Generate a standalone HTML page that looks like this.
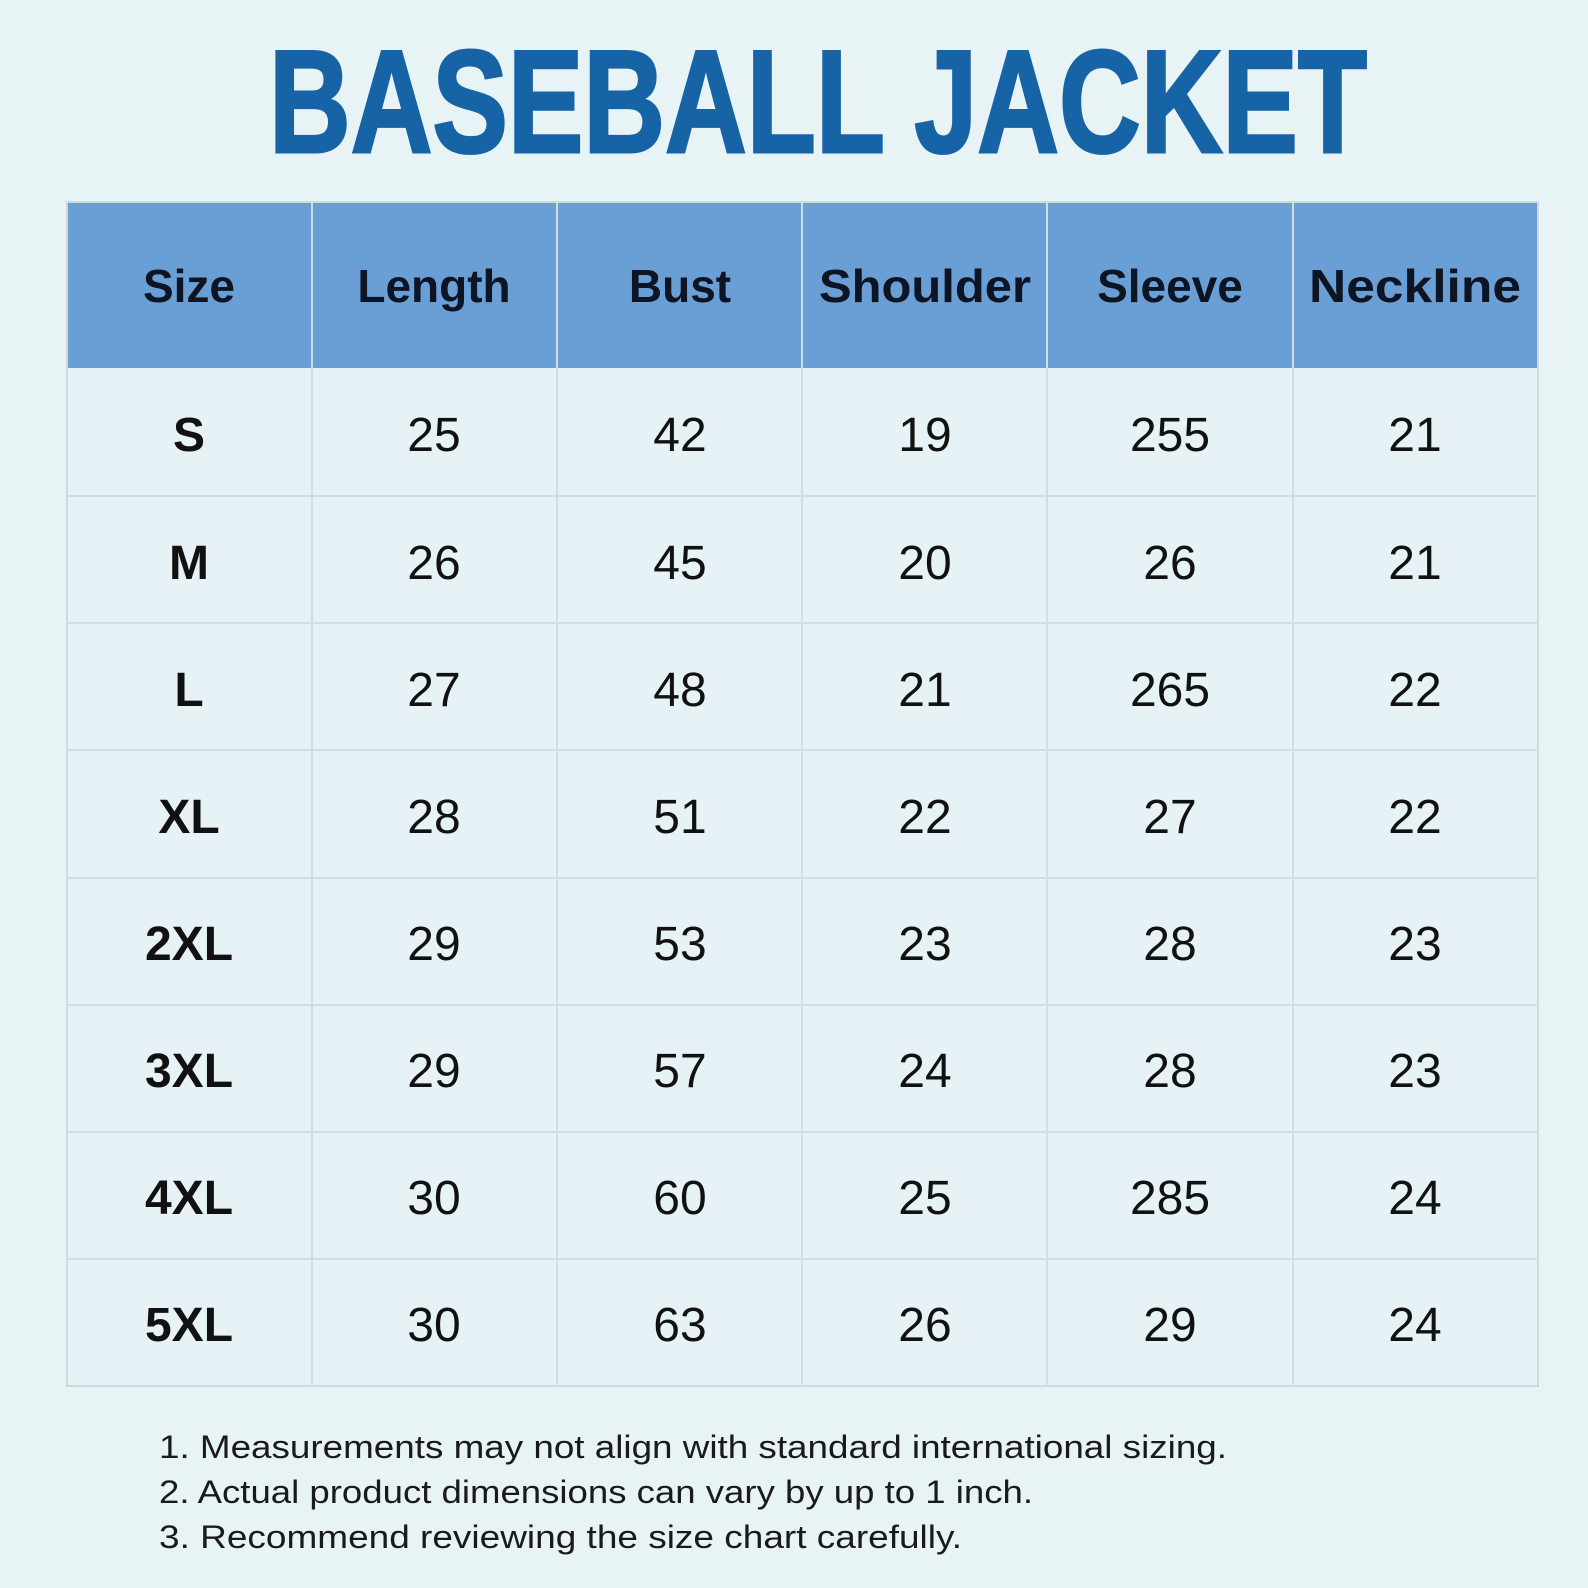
<!DOCTYPE html>
<html><head><meta charset="utf-8"><style>
html,body{margin:0;padding:0;background:#e8f3f6;}
svg{display:block}
</style></head><body>
<svg width="1588" height="1588" viewBox="0 0 1588 1588" xmlns="http://www.w3.org/2000/svg">
<rect width="1588" height="1588" fill="#e8f3f6"/>
<text x="269" y="152" font-family="Liberation Sans, sans-serif" font-weight="bold" font-size="146" fill="#1663a6" textLength="1098" lengthAdjust="spacingAndGlyphs" stroke="#1663a6" stroke-width="3">BASEBALL JACKET</text>
<rect x="67" y="202" width="1471" height="166" fill="#6a9fd6"/>
<rect x="67" y="368" width="1471" height="1018" fill="#e6f2f5"/>
<g stroke="#d3dde2" stroke-width="2" fill="none">
<rect x="67" y="202" width="1471" height="1184" stroke="#cfd9de"/>
<line x1="312" y1="202" x2="312" y2="1386"/>
<line x1="557" y1="202" x2="557" y2="1386"/>
<line x1="802" y1="202" x2="802" y2="1386"/>
<line x1="1047" y1="202" x2="1047" y2="1386"/>
<line x1="1293" y1="202" x2="1293" y2="1386"/>
<line x1="67" y1="496" x2="1538" y2="496"/>
<line x1="67" y1="623" x2="1538" y2="623"/>
<line x1="67" y1="750" x2="1538" y2="750"/>
<line x1="67" y1="878" x2="1538" y2="878"/>
<line x1="67" y1="1005" x2="1538" y2="1005"/>
<line x1="67" y1="1132" x2="1538" y2="1132"/>
<line x1="67" y1="1259" x2="1538" y2="1259"/>
</g>
<g font-family="Liberation Sans, sans-serif" font-weight="bold" font-size="46" fill="#0d1424" text-anchor="middle">
<text x="189" y="302">Size</text>
<text x="434" y="302">Length</text>
<text x="680" y="302">Bust</text>
<text x="925" y="302" textLength="212" lengthAdjust="spacingAndGlyphs">Shoulder</text>
<text x="1170" y="302">Sleeve</text>
<text x="1415" y="302" textLength="212" lengthAdjust="spacingAndGlyphs">Neckline</text>
</g>
<g font-family="Liberation Sans, sans-serif" font-size="48" fill="#111" text-anchor="middle">
<g font-weight="bold">
<text x="189" y="451">S</text><text x="189" y="579">M</text><text x="189" y="706">L</text><text x="189" y="833">XL</text><text x="189" y="960">2XL</text><text x="189" y="1087">3XL</text><text x="189" y="1214">4XL</text><text x="189" y="1341">5XL</text>
</g>
<text x="434" y="451">25</text><text x="680" y="451">42</text><text x="925" y="451">19</text><text x="1170" y="451">255</text><text x="1415" y="451">21</text>
<text x="434" y="579">26</text><text x="680" y="579">45</text><text x="925" y="579">20</text><text x="1170" y="579">26</text><text x="1415" y="579">21</text>
<text x="434" y="706">27</text><text x="680" y="706">48</text><text x="925" y="706">21</text><text x="1170" y="706">265</text><text x="1415" y="706">22</text>
<text x="434" y="833">28</text><text x="680" y="833">51</text><text x="925" y="833">22</text><text x="1170" y="833">27</text><text x="1415" y="833">22</text>
<text x="434" y="960">29</text><text x="680" y="960">53</text><text x="925" y="960">23</text><text x="1170" y="960">28</text><text x="1415" y="960">23</text>
<text x="434" y="1087">29</text><text x="680" y="1087">57</text><text x="925" y="1087">24</text><text x="1170" y="1087">28</text><text x="1415" y="1087">23</text>
<text x="434" y="1214">30</text><text x="680" y="1214">60</text><text x="925" y="1214">25</text><text x="1170" y="1214">285</text><text x="1415" y="1214">24</text>
<text x="434" y="1341">30</text><text x="680" y="1341">63</text><text x="925" y="1341">26</text><text x="1170" y="1341">29</text><text x="1415" y="1341">24</text>
</g>
<g font-family="Liberation Sans, sans-serif" font-size="32" fill="#1a1a1a">
<text x="159" y="1458" textLength="1068" lengthAdjust="spacingAndGlyphs">1. Measurements may not align with standard international sizing.</text>
<text x="159" y="1503" textLength="874" lengthAdjust="spacingAndGlyphs">2. Actual product dimensions can vary by up to 1 inch.</text>
<text x="159" y="1548" textLength="803" lengthAdjust="spacingAndGlyphs">3. Recommend reviewing the size chart carefully.</text>
</g>
</svg>
</body></html>
